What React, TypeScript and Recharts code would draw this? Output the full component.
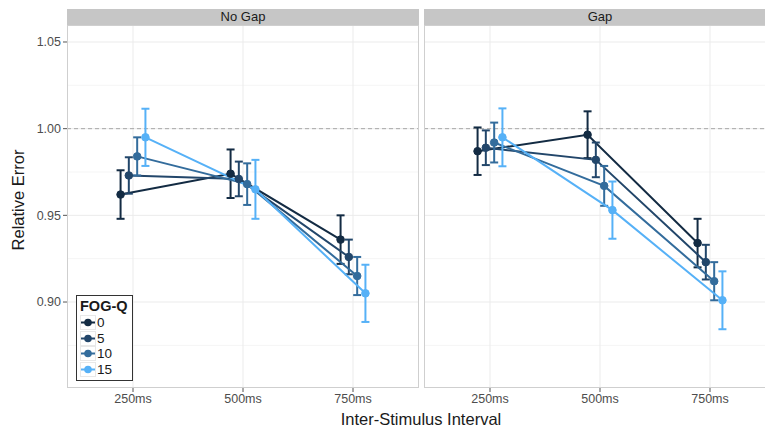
import React from "react";
import { LineChart, Line, XAxis, YAxis, ErrorBar, ReferenceLine } from "recharts";

const categories = ["250ms", "500ms", "750ms"];
const groups = ["0", "5", "10", "15"];
const colors = ["#132B43", "#22466A", "#336C9C", "#56B1F7"];
const dodge = [-0.113, -0.038, 0.038, 0.113];

const noGap0 = [0.962, 0.974, 0.936];
const noGap5 = [0.973, 0.971, 0.926];
const noGap10 = [0.984, 0.968, 0.915];
const noGap15 = [0.995, 0.965, 0.905];
const noGapErr0 = [0.014, 0.014, 0.014];
const noGapErr5 = [0.0105, 0.01, 0.01];
const noGapErr10 = [0.011, 0.012, 0.011];
const noGapErr15 = [0.0165, 0.017, 0.0165];

const gap0 = [0.987, 0.9965, 0.934];
const gap5 = [0.989, 0.982, 0.923];
const gap10 = [0.992, 0.967, 0.912];
const gap15 = [0.995, 0.953, 0.901];
const gapErr0 = [0.0137, 0.0135, 0.014];
const gapErr5 = [0.01, 0.01, 0.01];
const gapErr10 = [0.0115, 0.0115, 0.011];
const gapErr15 = [0.0167, 0.0165, 0.0167];

const yTicks = [0.9, 0.95, 1.0, 1.05];
const yMinor = [0.875, 0.925, 0.975, 1.025];
const yDomain = [0.8504, 1.0598];
const xDomain = [0.4, 3.6];

const FONT = "'Liberation Sans', Arial, sans-serif";

function buildSeries(vals: number[], errs: number[], g: number) {
  return vals.map((v, i) => ({ x: i + 1 + dodge[g], y: v, e: errs[i] }));
}

const noGapSeries = [
  buildSeries(noGap0, noGapErr0, 0),
  buildSeries(noGap5, noGapErr5, 1),
  buildSeries(noGap10, noGapErr10, 2),
  buildSeries(noGap15, noGapErr15, 3),
];
const gapSeries = [
  buildSeries(gap0, gapErr0, 0),
  buildSeries(gap5, gapErr5, 1),
  buildSeries(gap10, gapErr10, 2),
  buildSeries(gap15, gapErr15, 3),
];

function Panel({ series, showY }: { series: any[][]; showY: boolean }) {
  const width = showY ? 419 : 352;
  return (
    <LineChart width={width} height={432} margin={{ top: 25, right: 0, bottom: 0, left: 0 }}>
      <XAxis
        type="number"
        dataKey="x"
        domain={xDomain}
        ticks={[1, 2, 3]}
        tickFormatter={(v: number) => categories[Math.round(v) - 1]}
        allowDataOverflow
        axisLine={false}
        tickSize={4}
        tickLine={{ stroke: "#555" }}
        tick={{ fill: "#4D4D4D", fontSize: 12.5, fontFamily: FONT }}
        height={44}
        interval={0}
      />
      <YAxis
        type="number"
        domain={yDomain}
        ticks={yTicks}
        allowDataOverflow
        hide={!showY}
        width={showY ? 67 : 0}
        axisLine={false}
        tickSize={4}
        tickLine={{ stroke: "#555" }}
        tickFormatter={(v: number) => v.toFixed(2)}
        tick={{ fill: "#4D4D4D", fontSize: 12.5, fontFamily: FONT }}
      />
      {yMinor.map((v) => (
        <ReferenceLine key={"mn" + v} y={v} stroke="#F5F5F5" strokeWidth={1} />
      ))}
      {yTicks.map((v) => (
        <ReferenceLine key={"mj" + v} y={v} stroke="#EBEBEB" strokeWidth={1} />
      ))}
      {[1, 2, 3].map((v) => (
        <ReferenceLine key={"vx" + v} x={v} stroke="#EBEBEB" strokeWidth={1} />
      ))}
      <ReferenceLine y={1} stroke="#A8A8A8" strokeWidth={1} strokeDasharray="4 3" />
      {series.map((d, g) => (
        <Line
          key={groups[g]}
          data={d}
          dataKey="y"
          type="linear"
          stroke={colors[g]}
          strokeWidth={2}
          dot={{ r: 3.8, fill: colors[g], stroke: colors[g], strokeWidth: 1 }}
          activeDot={false}
          isAnimationActive={false}
        >
          <ErrorBar dataKey="e" direction="y" width={4} stroke={colors[g]} strokeWidth={2} isAnimationActive={false} />
        </Line>
      ))}
    </LineChart>
  );
}

function LegendKey({ color }: { color: string }) {
  return (
    <svg width={16} height={15} style={{ display: "block" }}>
      <rect x={0.5} y={0.5} width={15} height={14} fill="#FFFFFF" stroke="#E8E8E8" />
      <line x1={1} y1={7.5} x2={15} y2={7.5} stroke={color} strokeWidth={2} />
      <circle cx={8} cy={7.5} r={3.8} fill={color} />
    </svg>
  );
}

export default function App() {
  return (
    <div
      style={{
        position: "absolute",
        left: 0,
        top: 0,
        width: 765,
        height: 432,
        overflow: "hidden",
        background: "#FFFFFF",
        fontFamily: FONT,
      }}
    >
      <div style={{ position: "absolute", left: 0, top: 0 }}>
        <Panel series={noGapSeries} showY={true} />
      </div>
      <div style={{ position: "absolute", left: 424, top: 0 }}>
        <Panel series={gapSeries} showY={false} />
      </div>

      {/* panel borders */}
      <div style={{ position: "absolute", left: 67, top: 25, width: 352, height: 363, border: "1px solid #CFCFCF", boxSizing: "border-box", pointerEvents: "none" }} />
      <div style={{ position: "absolute", left: 424, top: 25, width: 352, height: 363, border: "1px solid #CFCFCF", boxSizing: "border-box", pointerEvents: "none" }} />

      {/* strips */}
      <div style={{ position: "absolute", left: 67, top: 9, width: 352, height: 16, background: "#C6C6C6", color: "#1A1A1A", fontSize: 13, lineHeight: "16px", textAlign: "center" }}>No Gap</div>
      <div style={{ position: "absolute", left: 424, top: 9, width: 352, height: 16, background: "#C6C6C6", color: "#1A1A1A", fontSize: 13, lineHeight: "16px", textAlign: "center" }}>Gap</div>

      {/* axis titles */}
      <div style={{ position: "absolute", left: 321, top: 409, width: 200, textAlign: "center", fontSize: 16.5, lineHeight: "20px", color: "#1A1A1A" }}>Inter-Stimulus Interval</div>
      <div
        style={{
          position: "absolute",
          left: 18,
          top: 200,
          width: 200,
          textAlign: "center",
          fontSize: 16.5,
          lineHeight: "20px",
          color: "#1A1A1A",
          transform: "translate(-50%, -50%) rotate(-90deg)",
        }}
      >
        Relative Error
      </div>

      {/* legend */}
      <div
        style={{
          position: "absolute",
          left: 76,
          top: 295,
          width: 57,
          height: 86,
          border: "1.5px solid #333",
          boxSizing: "border-box",
          background: "#FFFFFF",
          padding: "1px 3px",
        }}
      >
        <div style={{ fontWeight: "bold", fontSize: 14.5, color: "#1A1A1A", lineHeight: "18px" }}>FOG-Q</div>
        {groups.map((g, i) => (
          <div key={g} style={{ display: "flex", alignItems: "center", height: 15.5 }}>
            <LegendKey color={colors[i]} />
            <span style={{ fontSize: 13.5, color: "#1A1A1A", marginLeft: 1 }}>{g}</span>
          </div>
        ))}
      </div>
    </div>
  );
}
